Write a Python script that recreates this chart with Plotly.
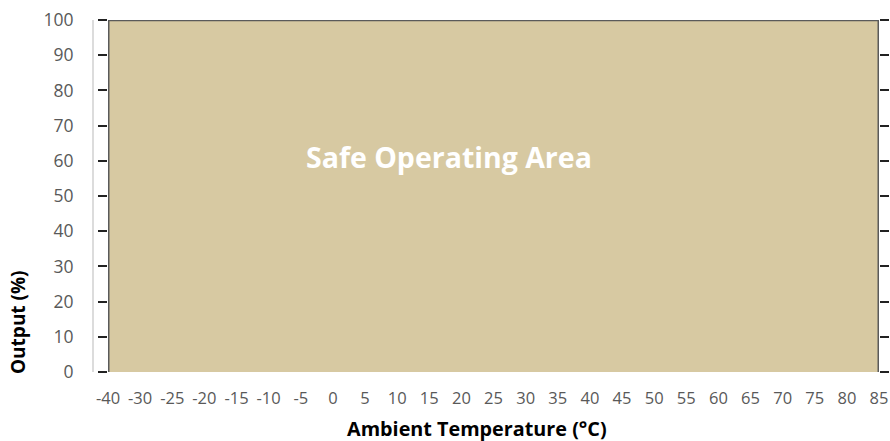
import plotly.graph_objects as go

categories = ["-40", "-30", "-25", "-20", "-15", "-10", "-5", "0", "5", "10", "15", "20",
              "25", "30", "35", "40", "45", "50", "55", "60", "65", "70", "75", "80", "85"]
output_pct = [100] * len(categories)
y_ticks = [0, 10, 20, 30, 40, 50, 60, 70, 80, 90, 100]

xi = list(range(len(categories)))

fig = go.Figure()
fig.add_trace(go.Scatter(
    x=xi, y=output_pct, mode="lines", fill="tozeroy",
    fillcolor="#D7C9A2", line=dict(color="#5A5A5A", width=2.5),
    hoverinfo="skip", showlegend=False))
# outline edges (vertical sides) of the area
fig.add_trace(go.Scatter(
    x=[xi[0], xi[0], None, xi[-1], xi[-1]],
    y=[0, output_pct[0], None, 0, output_pct[-1]],
    mode="lines", line=dict(color="#5A5A5A", width=3),
    hoverinfo="skip", showlegend=False))

font = "Open Sans, Segoe UI, DejaVu Sans, sans-serif"

W, H = 890, 441
l, r, t, b = 108, 890 - 879, 20, 441 - 372
pw, ph = W - l - r, H - t - b


def px_x(px):
    return (px - l) / pw


def px_y(py):
    return (H - b - py) / ph


fig.update_layout(
    width=W, height=H,
    margin=dict(l=l, r=r, t=t, b=b, autoexpand=False),
    paper_bgcolor="white", plot_bgcolor="white",
    font=dict(family=font, size=15, color="#595959"),
    xaxis=dict(range=[0, len(categories) - 1], tickmode="array", tickvals=xi,
               ticktext=categories, showgrid=False, zeroline=False, showline=False,
               ticks="", tickfont=dict(size=16.5, color="#595959"),
               ticklabelstandoff=14, automargin=False, ticklabeloverflow="allow"),
    yaxis=dict(range=[0, 100], tickmode="array", tickvals=y_ticks,
               showgrid=False, zeroline=False, showline=False,
               ticks="outside", ticklen=9, tickwidth=1.5, tickcolor="#222222",
               mirror="ticks", tickfont=dict(size=17.5, color="#595959"),
               ticklabelstandoff=21, automargin=False, ticklabeloverflow="allow"),
    shapes=[dict(type="line", xref="paper", yref="paper",
                 x0=px_x(93), x1=px_x(93), y0=0, y1=1,
                 line=dict(color="#D0D0D0", width=1.5))],
    annotations=[
        dict(text="<b>Safe Operating Area</b>", x=10.6, y=61, xref="x", yref="y",
             xanchor="center", yanchor="middle",
             showarrow=False, font=dict(family=font, size=28.5, color="white")),
        dict(text="<b>Ambient Temperature (°C)</b>", x=px_x(477), y=px_y(428),
             xref="paper", yref="paper", xanchor="center", yanchor="middle",
             showarrow=False, font=dict(family=font, size=19.8, color="black")),
        dict(text="<b>Output (%)</b>", x=px_x(18), y=px_y(322), xref="paper", yref="paper",
             xanchor="center", yanchor="middle",
             showarrow=False, textangle=-90,
             font=dict(family=font, size=19, color="black")),
    ],
)

fig.write_html(
    "out.html",
    config={"displayModeBar": False},
    post_script="document.body.style.margin='0';document.body.style.overflow='hidden';",
)
